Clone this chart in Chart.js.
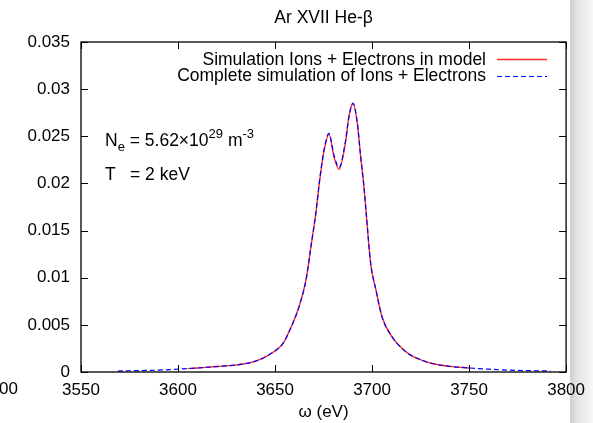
<!DOCTYPE html>
<html>
<head>
<meta charset="utf-8">
<script src="https://cdn.jsdelivr.net/npm/chart.js@4.4.1/dist/chart.umd.min.js"></script>
<style>
  html, body { margin: 0; padding: 0; background: #fff; }
  canvas { display: block; }
</style>
</head>
<body>
<canvas id="profile" width="593" height="423"></canvas>
<script>
// Photon energy (eV) and line profile, complete simulation (blue dashed)
const omegaComplete = [3569, 3580, 3590, 3600, 3610, 3620, 3628, 3635, 3640, 3645, 3649, 3654, 3659, 3662, 3666, 3668.5, 3671, 3673, 3675.3, 3677.8, 3680.4, 3683, 3686.4, 3688.1, 3690.2, 3692.4, 3694.1, 3695.8, 3697, 3699.3, 3702, 3705.2, 3710.4, 3714, 3719, 3725.8, 3731, 3740, 3750, 3760, 3770, 3780, 3792];
const profileComplete = [0.0001, 0.00015, 0.0002, 0.0003, 0.00042, 0.00058, 0.0007, 0.0009, 0.00115, 0.0016, 0.0021, 0.003, 0.0051, 0.0067, 0.0098, 0.0133, 0.0168, 0.0204, 0.0236, 0.0253, 0.023, 0.0217, 0.0246, 0.0271, 0.0285, 0.0264, 0.0229, 0.0197, 0.0168, 0.0115, 0.0087, 0.0058, 0.0037, 0.0028, 0.0019, 0.00124, 0.0009, 0.0006, 0.00043, 0.0003, 0.0002, 0.00015, 0.0001];

// Electrons in model (red solid)
const omegaModel = [3605, 3610, 3620, 3628, 3635, 3640, 3645, 3649, 3654, 3659, 3662, 3666, 3668.5, 3671, 3673, 3675.3, 3677.8, 3680.4, 3683, 3686.4, 3688.1, 3690.2, 3692.4, 3694.1, 3695.8, 3697, 3699.3, 3702, 3705.2, 3710.4, 3714, 3719, 3725.8, 3731, 3740, 3750];
const profileModel = [0.00036, 0.00042, 0.00058, 0.0007, 0.0009, 0.00115, 0.0016, 0.0021, 0.003, 0.0051, 0.0067, 0.0098, 0.0133, 0.0168, 0.0203, 0.0235, 0.0252, 0.0228, 0.0215, 0.0245, 0.0271, 0.0285, 0.0264, 0.0229, 0.0197, 0.0168, 0.0115, 0.0087, 0.0058, 0.0037, 0.0028, 0.0019, 0.00124, 0.0009, 0.0006, 0.00043];

const xTicks = [3550, 3600, 3650, 3700, 3750, 3800];
const yTicks = [0, 0.005, 0.01, 0.015, 0.02, 0.025, 0.03, 0.035];

const chartTitle = 'Ar XVII He-\u03b2';
const legendLabels = ['Simulation Ions + Electrons in model', 'Complete simulation of Ions + Electrons'];

const FONT = '"Liberation Sans", Arial, Helvetica, sans-serif';
const RED = '#ff2a2a';
const BLUE = '#0000ff';

function toPoints(xs, ys) {
    return xs.map((x, i) => ({ x: x, y: ys[i] }));
}

// gnuplot-like frame: shadow, box, inward ticks, title, legend, notes
const framePlugin = {
    id: 'frame',
    beforeDraw(chart) {
        const ctx = chart.ctx;
        ctx.save();
        const g = ctx.createLinearGradient(570, 0, 593, 0);
        g.addColorStop(0, '#cfcfcf');
        g.addColorStop(0.35, '#e6e6e6');
        g.addColorStop(1, '#f7f7f7');
        ctx.fillStyle = g;
        ctx.fillRect(570, 0, 23, chart.height);
        // clipped label of a neighbouring panel
        ctx.fillStyle = '#000';
        ctx.font = '17px ' + FONT;
        ctx.textAlign = 'right';
        ctx.textBaseline = 'alphabetic';
        ctx.fillText('3500', 18, 394);
        ctx.restore();
    },
    afterDraw(chart) {
        const ctx = chart.ctx;
        const a = chart.chartArea;
        const xs = chart.scales.x, ys = chart.scales.y;
        ctx.save();
        ctx.strokeStyle = '#000';
        ctx.lineWidth = 1.3;
        ctx.strokeRect(a.left, a.top, a.right - a.left, a.bottom - a.top);
        ctx.lineWidth = 1;
        ctx.beginPath();
        xTicks.forEach(v => {
            const px = Math.round(xs.getPixelForValue(v)) + 0.5;
            ctx.moveTo(px, a.bottom); ctx.lineTo(px, a.bottom - 7);
            ctx.moveTo(px, a.top); ctx.lineTo(px, a.top + 7);
        });
        yTicks.forEach(v => {
            const py = Math.round(ys.getPixelForValue(v)) + 0.5;
            ctx.moveTo(a.left, py); ctx.lineTo(a.left + 7, py);
            ctx.moveTo(a.right, py); ctx.lineTo(a.right - 7, py);
        });
        ctx.stroke();

        // title
        ctx.fillStyle = '#000';
        ctx.font = '17.5px ' + FONT;
        ctx.textAlign = 'center';
        ctx.textBaseline = 'middle';
        ctx.fillText(chartTitle, (a.left + a.right) / 2, 18);

        // legend
        ctx.font = '17.5px ' + FONT;
        ctx.textAlign = 'right';
        ctx.fillText(legendLabels[0], 486, 60);
        ctx.fillText(legendLabels[1], 486, 76);
        ctx.lineWidth = 1.5;
        ctx.strokeStyle = RED;
        ctx.beginPath(); ctx.moveTo(497, 59.5); ctx.lineTo(547, 59.5); ctx.stroke();
        ctx.lineWidth = 1.2;
        ctx.strokeStyle = BLUE;
        ctx.setLineDash([5, 3]);
        ctx.beginPath(); ctx.moveTo(497, 76.5); ctx.lineTo(547, 76.5); ctx.stroke();
        ctx.setLineDash([]);

        // plasma conditions
        ctx.textAlign = 'left';
        ctx.textBaseline = 'alphabetic';
        let x = 105;
        const big = '17.5px ' + FONT, small = '13px ' + FONT;
        const run = (t, f, dy) => {
            ctx.font = f;
            ctx.fillText(t, x, 146 + dy);
            x += ctx.measureText(t).width;
        };
        run('N', big, 0);
        run('e', small, 5);
        run(' = 5.62\u00d710', big, 0);
        run('29', small, -8);
        run(' m', big, 0);
        run('-3', small, -8);
        ctx.font = big;
        ctx.fillText('T', 105, 180);
        ctx.fillText('= 2 keV', 130, 180);
        ctx.restore();
    }
};

new Chart(document.getElementById('profile'), {
    type: 'line',
    data: {
        datasets: [
            {
                label: legendLabels[0],
                data: toPoints(omegaModel, profileModel),
                borderColor: RED,
                borderWidth: 1.4,
                pointRadius: 0,
                cubicInterpolationMode: 'monotone',
                order: 2
            },
            {
                label: legendLabels[1],
                data: toPoints(omegaComplete, profileComplete),
                borderColor: BLUE,
                borderWidth: 1.2,
                borderDash: [5, 3],
                pointRadius: 0,
                cubicInterpolationMode: 'monotone',
                order: 1
            }
        ]
    },
    options: {
        responsive: false,
        animation: false,
        devicePixelRatio: 1,
        layout: { padding: { top: 42, right: 26, left: 0, bottom: 0 } },
        plugins: {
            legend: { display: false },
            title: { display: false },
            tooltip: { enabled: false }
        },
        scales: {
            x: {
                type: 'linear',
                min: 3550,
                max: 3800,
                afterFit: s => { s.height = 51; },
                afterBuildTicks: s => { s.ticks = xTicks.map(v => ({ value: v })); },
                grid: { display: false, drawTicks: false },
                border: { display: false },
                ticks: {
                    color: '#000',
                    font: { family: FONT, size: 17 },
                    padding: 8,
                    maxRotation: 0,
                    autoSkip: false,
                    callback: v => String(v)
                },
                title: {
                    display: true,
                    text: '\u03c9 (eV)',
                    color: '#000',
                    font: { family: FONT, size: 17 },
                    padding: { top: 0, bottom: 0 }
                }
            },
            y: {
                min: 0,
                max: 0.035,
                afterFit: s => { s.width = 81; },
                afterBuildTicks: s => { s.ticks = yTicks.map(v => ({ value: v })); },
                grid: { display: false, drawTicks: false },
                border: { display: false },
                ticks: {
                    color: '#000',
                    font: { family: FONT, size: 17 },
                    padding: 11,
                    callback: v => String(+v.toFixed(3))
                }
            }
        }
    },
    plugins: [framePlugin]
});
</script>
</body>
</html>
